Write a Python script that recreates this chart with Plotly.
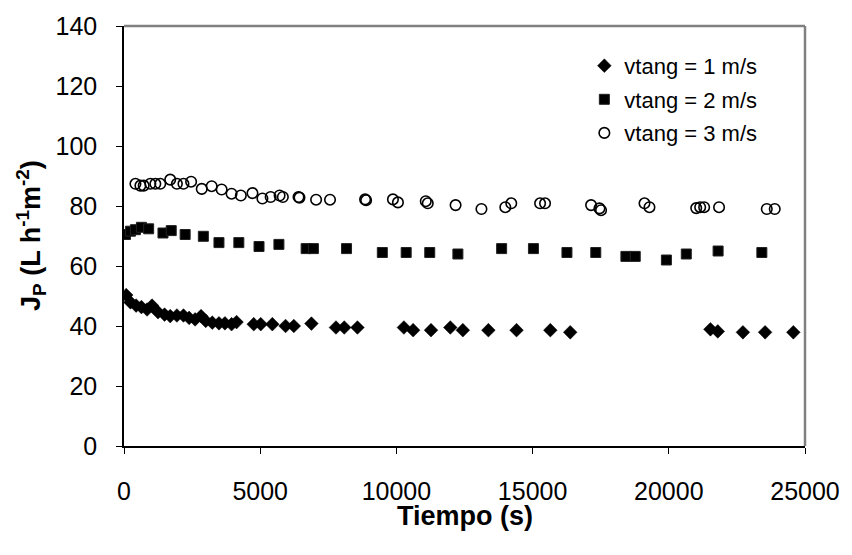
import plotly.graph_objects as go

# Series 1: vtang = 1 m/s (diamonds)
t1 = [80, 237, 445, 639, 847, 1029, 1248, 1489, 1697, 1942, 2183, 2391, 2610, 2829, 3000,
      3241, 3486, 3705, 3949, 4132, 4763, 5019, 5446, 5931, 6234, 6880, 7782, 8085, 8570,
      10275, 10614, 11271, 11979, 12439, 13377, 14410, 15651, 16381, 21528, 21798, 22721,
      23535, 24572]
j1 = [50.3, 47.9, 46.8, 46.3, 45.5, 46.8, 44.6, 43.8, 43.3, 43.5, 43.5, 42.7, 42.2, 43.3, 41.7,
      41.1, 40.9, 40.9, 40.6, 41.3, 40.6, 40.6, 40.6, 40.0, 40.0, 40.8, 39.5, 39.5, 39.5,
      39.5, 38.6, 38.6, 39.5, 38.6, 38.6, 38.6, 38.6, 37.9, 38.9, 38.2, 37.9,
      37.9, 37.9]

# Series 2: vtang = 2 m/s (squares)
t2 = [55, 237, 420, 639, 905, 1431, 1734, 2245, 2913, 3486, 4216, 4957, 5687, 6687, 6953,
      8169, 9483, 10359, 11224, 12257, 13863, 15031, 16261, 17319, 18425, 18768, 19912,
      20642, 21810, 23416]
j2 = [70.5, 71.6, 72.1, 72.9, 72.4, 71.0, 71.8, 70.5, 69.9, 67.8, 67.8, 66.5, 67.2, 65.8, 65.8,
      65.8, 64.5, 64.5, 64.5, 64.0, 65.8, 65.8, 64.5, 64.5, 63.2, 63.2, 62.0,
      64.0, 65.0, 64.5]

# Series 3: vtang = 3 m/s (open circles)
t3 = [420, 602, 723, 967, 1150, 1332, 1697, 1942, 2183, 2464, 2854, 3219, 3584, 3949, 4289,
      4716, 5081, 5384, 5712, 5832, 6406, 6442, 7052, 7563, 8851, 8888, 9873, 10056, 11078,
      11151, 12173, 13122, 13998, 14217, 15275, 15457, 17147, 17454, 17513, 19108, 19290,
      21006, 21152, 21298, 21845, 23597, 23889]
j3 = [87.4, 86.8, 86.8, 87.4, 87.4, 87.4, 88.8, 87.4, 87.4, 88.1, 85.7, 86.6, 85.5, 84.1, 83.5,
      84.3, 82.5, 83.0, 83.5, 83.0, 83.0, 82.8, 82.1, 82.1, 82.2, 81.9, 82.2, 81.2, 81.6,
      80.9, 80.3, 79.0, 79.6, 80.9, 80.9, 80.9, 80.3, 79.2, 78.6, 80.9, 79.6,
      79.3, 79.6, 79.6, 79.6, 79.0, 79.0]

names = ["vtang = 1 m/s", "vtang = 2 m/s", "vtang = 3 m/s"]
x_ticks = [0, 5000, 10000, 15000, 20000, 25000]
x_labels = ["0", "5000", "10000", "15000", "20000", "25000"]
y_ticks = [0, 20, 40, 60, 80, 100, 120, 140]
y_labels = ["0", "20", "40", "60", "80", "100", "120", "140"]

FONT = "Arial, Liberation Sans, sans-serif"

fig = go.Figure()
fig.add_trace(go.Scatter(x=t1, y=j1, mode="markers", name=names[0], legendgroup="a",
                         marker=dict(symbol="diamond", size=10.5, color="black",
                                     line=dict(color="black", width=0.5))))
fig.add_trace(go.Scatter(x=t2, y=j2, mode="markers", name=names[1], legendgroup="b",
                         marker=dict(symbol="square", size=10, color="black",
                                     line=dict(color="#222222", width=1))))
fig.add_trace(go.Scatter(x=t3, y=j3, mode="markers", name=names[2], legendgroup="c",
                         marker=dict(symbol="circle-open", size=10.5, color="black",
                                     line=dict(color="black", width=1.6))))

fig.update_layout(
    width=852, height=555,
    margin=dict(l=124, r=43, t=17, b=109),
    paper_bgcolor="white", plot_bgcolor="white",
    font=dict(family=FONT, color="black"),
    showlegend=True,
    legend=dict(x=0.676, y=0.955, xanchor="left", yanchor="top",
                font=dict(size=22, family=FONT, color="black"),
                bgcolor="rgba(0,0,0,0)", tracegroupgap=2, itemwidth=30),
    xaxis=dict(range=[0, 25000], tickvals=x_ticks, ticktext=x_labels, ticks="outside",
               ticklen=6, tickwidth=1.3, tickcolor="black", showline=True,
               linecolor="black", linewidth=1.5, showgrid=False, zeroline=False,
               tickfont=dict(size=25, family=FONT, color="black"),
               ticklabelstandoff=16),
    yaxis=dict(range=[0, 140], tickvals=y_ticks, ticktext=y_labels, ticks="outside",
               ticklen=6, tickwidth=1.3, tickcolor="black", showline=True,
               linecolor="black", linewidth=1.5, showgrid=False, zeroline=False,
               tickfont=dict(size=25, family=FONT, color="black"),
               ticklabelstandoff=14),
    shapes=[
        dict(type="line", xref="paper", yref="paper", x0=0, x1=1, y0=1, y1=1,
             line=dict(color="#808080", width=2.5)),
        dict(type="line", xref="paper", yref="paper", x0=1, x1=1, y0=0, y1=1,
             line=dict(color="#808080", width=2.5)),
    ],
    annotations=[
        dict(text="<b>Tiempo (s)</b>", xref="paper", yref="paper", x=0.5, y=0,
             xanchor="center", yanchor="middle", yshift=-70, showarrow=False,
             font=dict(size=27, family=FONT, color="black")),
        dict(text="<b>J<sub>P</sub> (L h<sup>-1</sup>m<sup>-2</sup>)</b>", xref="paper",
             yref="paper", x=0, y=0.5, xanchor="center", yanchor="middle", xshift=-93,
             textangle=-90, showarrow=False,
             font=dict(size=27, family=FONT, color="black")),
    ],
)

fig.write_html("out.html")
